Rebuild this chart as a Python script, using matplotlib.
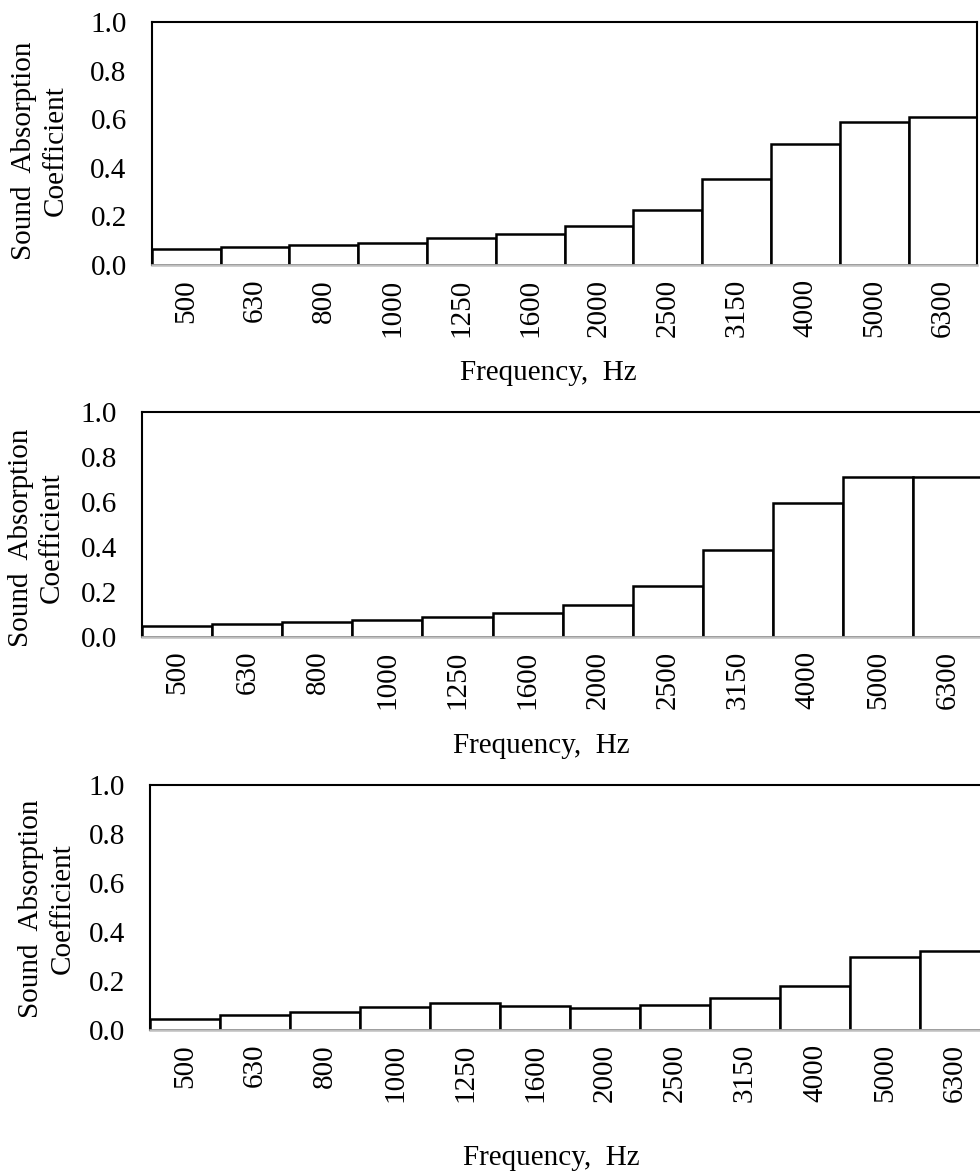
import matplotlib
matplotlib.use("Agg")
import matplotlib.pyplot as plt
from matplotlib.ticker import FormatStrFormatter

plt.rcParams["font.family"] = ["Liberation Serif", "DejaVu Serif"]
plt.rcParams["font.size"] = 21

# frequency bands, Hz
freqs = ["500", "630", "800", "1000", "1250", "1600",
         "2000", "2500", "3150", "4000", "5000", "6300"]

# sound absorption coefficients
alpha_top = [0.065, 0.074, 0.082, 0.091, 0.110, 0.129,
             0.162, 0.225, 0.354, 0.497, 0.588, 0.610]
alpha_mid = [0.049, 0.058, 0.064, 0.073, 0.089, 0.104,
             0.142, 0.224, 0.385, 0.596, 0.708, 0.708]
alpha_bot = [0.045, 0.060, 0.073, 0.093, 0.109, 0.098,
             0.090, 0.101, 0.131, 0.180, 0.297, 0.321]

W, H = 980, 1176
fig = plt.figure(figsize=(W / 100, H / 100), dpi=100)

# (left, right, top, bottom) of each plot area in pixels, plus label spots
panels = [
    (alpha_top, (151.7, 977.3, 22.3, 265.0), (40, 151), (548, 373)),
    (alpha_mid, (142.3, 982.8, 411.7, 636.7), (36, 538), (541, 746)),
    (alpha_bot, (150.0, 990.0, 785.0, 1030.0), (47, 909), (551, 1158)),
]

for vals, (l, r, t, b), ylab_xy, xlab_xy in panels:
    ax = fig.add_axes([l / W, 1 - b / H, (r - l) / W, (b - t) / H])
    x = list(range(len(freqs)))
    ax.bar(x, vals, width=1.0, facecolor="white", edgecolor="black",
           linewidth=1.8, zorder=1)
    ax.set_xlim(-0.5, len(freqs) - 0.5)
    ax.set_ylim(0, 1.0)
    ax.set_yticks([0, 0.2, 0.4, 0.6, 0.8, 1.0])
    ax.yaxis.set_major_formatter(FormatStrFormatter("%.1f"))
    ax.set_xticks(x)
    ax.set_xticklabels(freqs, rotation=90)
    ax.tick_params(axis="both", length=0)
    ax.tick_params(axis="x", pad=10)
    ax.tick_params(axis="y", pad=18)
    for side in ["top", "left", "right"]:
        ax.spines[side].set_color("black")
        ax.spines[side].set_linewidth(1.5)
    ax.spines["bottom"].set_color("#BFBFBF")
    ax.spines["bottom"].set_linewidth(1.8)

    fig.text(ylab_xy[0] / W, 1 - ylab_xy[1] / H,
             "Sound  Absorption\nCoefficient", rotation=90,
             ha="center", va="center", multialignment="center",
             linespacing=1.25)
    fig.text(xlab_xy[0] / W, 1 - xlab_xy[1] / H, "Frequency,  Hz",
             ha="center", va="center")

fig.savefig("out.png", dpi=100, facecolor="white")
